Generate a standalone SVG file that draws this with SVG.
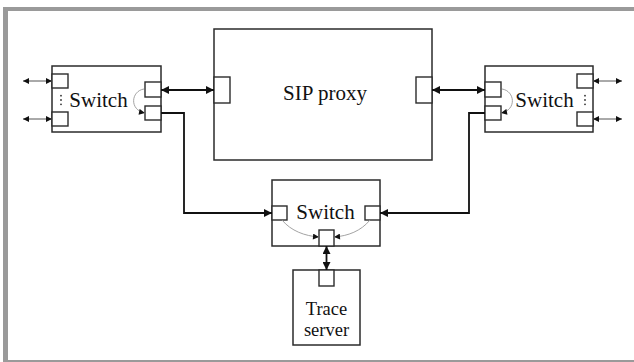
<svg xmlns="http://www.w3.org/2000/svg" width="634" height="362" viewBox="0 0 634 362">
<style>
.box{fill:#fff;stroke:#2b2b2b;stroke-width:1.5}
.port{fill:#fff;stroke:#2b2b2b;stroke-width:1.4}
.lbl{font-family:"Liberation Serif","Times New Roman",serif;font-size:21px;fill:#111;text-anchor:middle}
.sm{font-size:18.5px}
.thick{fill:none;stroke:#111;stroke-width:1.8}
.thin{fill:none;stroke:#555;stroke-width:1}
.curve{fill:none;stroke:#999;stroke-width:0.9}
.dot{fill:#333}
</style>
<defs>
<marker id="ah" viewBox="0 0 10 10" refX="10" refY="5" markerWidth="9" markerHeight="8" markerUnits="userSpaceOnUse" orient="auto-start-reverse">
<path d="M0,0 L10,5 L0,10 z" fill="#111"/>
</marker>
<marker id="as" viewBox="0 0 10 10" refX="10" refY="5" markerWidth="7" markerHeight="6" markerUnits="userSpaceOnUse" orient="auto-start-reverse">
<path d="M0,0 L10,5 L0,10 z" fill="#111"/>
</marker>
</defs>
<rect x="0" y="0" width="634" height="362" fill="#fff"/>
<g id="frame" fill="#9a9a9a">
<rect x="3" y="7" width="631" height="4"/>
<rect x="3" y="7" width="5" height="355"/>
<rect x="3" y="360" width="631" height="2"/>
</g>
<g id="sip-proxy">
<rect class="box" x="214" y="29" width="218" height="131"/>
<rect class="port" x="214" y="77" width="16" height="26"/>
<rect class="port" x="416" y="77" width="16" height="26"/>
<text class="lbl" x="325" y="100">SIP proxy</text>
</g>
<g id="switch-left">
<rect class="box" x="52" y="66" width="109" height="66"/>
<rect class="port" x="52" y="74" width="16" height="14"/>
<rect class="port" x="52" y="112" width="16" height="14"/>
<rect class="port" x="145" y="82" width="16" height="15"/>
<rect class="port" x="145" y="106" width="16" height="14"/>
<circle class="dot" cx="61" cy="95.7" r="0.9"/>
<circle class="dot" cx="61" cy="100" r="0.9"/>
<circle class="dot" cx="61" cy="104.3" r="0.9"/>
<text class="lbl" x="98.5" y="107">Switch</text>
</g>
<g id="switch-right">
<rect class="box" x="485" y="66" width="108" height="66"/>
<rect class="port" x="485" y="82" width="16" height="15"/>
<rect class="port" x="485" y="106" width="16" height="14"/>
<rect class="port" x="577" y="74" width="16" height="14"/>
<rect class="port" x="577" y="112" width="16" height="14"/>
<circle class="dot" cx="585" cy="95.7" r="0.9"/>
<circle class="dot" cx="585" cy="100" r="0.9"/>
<circle class="dot" cx="585" cy="104.3" r="0.9"/>
<text class="lbl" x="544.5" y="107">Switch</text>
</g>
<g id="switch-bottom">
<rect class="box" x="272" y="180" width="108" height="66"/>
<rect class="port" x="272" y="206" width="15" height="14"/>
<rect class="port" x="365" y="206" width="15" height="14"/>
<rect class="port" x="319" y="230" width="15" height="16"/>
<text class="lbl" x="325.5" y="219">Switch</text>
</g>
<g id="trace-server">
<rect class="box" x="293" y="270" width="67" height="75"/>
<rect class="port" x="319" y="270" width="15" height="16"/>
<text class="lbl sm" x="326.5" y="315">Trace</text>
<text class="lbl sm" x="326.5" y="336">server</text>
</g>
<g id="connectors">
<line class="thick" x1="161" y1="90" x2="214" y2="90" marker-start="url(#ah)" marker-end="url(#ah)"/>
<line class="thick" x1="432" y1="90" x2="485" y2="90" marker-start="url(#ah)" marker-end="url(#ah)"/>
<path class="thick" d="M161,113 H184 V213 H272" marker-end="url(#ah)"/>
<path class="thick" d="M485,113 H469 V213 H380" marker-end="url(#ah)"/>
<line class="thick" x1="326.5" y1="246" x2="326.5" y2="270" marker-start="url(#ah)" marker-end="url(#ah)"/>
<line class="thin" x1="23" y1="81" x2="52" y2="81" marker-start="url(#as)" marker-end="url(#as)"/>
<line class="thin" x1="23" y1="119" x2="52" y2="119" marker-start="url(#as)" marker-end="url(#as)"/>
<line class="thin" x1="593" y1="81" x2="622" y2="81" marker-start="url(#as)" marker-end="url(#as)"/>
<line class="thin" x1="593" y1="119" x2="622" y2="119" marker-start="url(#as)" marker-end="url(#as)"/>
<path class="curve" d="M144,89 C131,91 129,110 145,113" marker-end="url(#as)"/>
<path class="curve" d="M502,89 C515,91 517,110 501,113" marker-end="url(#as)"/>
<path class="curve" d="M282,220 C291,231 305,236 319,237" marker-end="url(#as)"/>
<path class="curve" d="M370,220 C361,231 348,236 334,237" marker-end="url(#as)"/>
</g>
</svg>
